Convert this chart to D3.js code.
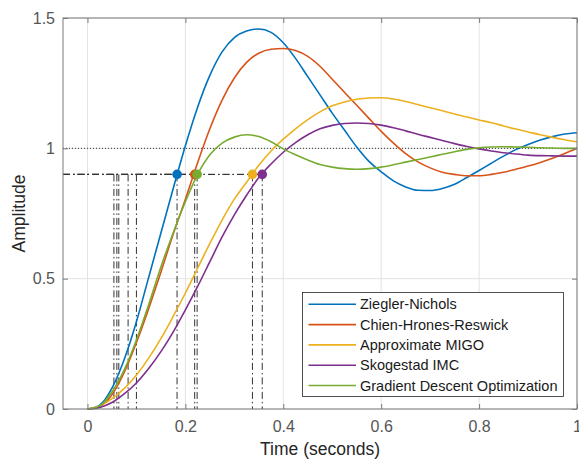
<!DOCTYPE html>
<html>
<head>
<meta charset="utf-8">
<script src="https://cdn.jsdelivr.net/npm/d3@7/dist/d3.min.js"></script>
<style>
  html, body { margin: 0; padding: 0; background: #fff; }
  svg { display: block; font-family: "Liberation Sans", Arial, Helvetica, sans-serif; }
</style>
</head>
<body>
<div id="chart"></div>
<script>
// step response (t in seconds)
const time = [0, 0.025, 0.05, 0.075, 0.1, 0.125, 0.15, 0.175, 0.2, 0.225, 0.25, 0.275, 0.3, 0.325, 0.35, 0.375,
  0.4, 0.425, 0.45, 0.475, 0.5, 0.525, 0.55, 0.575, 0.6, 0.625, 0.65, 0.675, 0.7, 0.725, 0.75, 0.775,
  0.8, 0.825, 0.85, 0.875, 0.9, 0.925, 0.95, 0.975, 1.0];

const zieglerNichols = [0, 0.015, 0.08, 0.19, 0.335, 0.505, 0.675, 0.845, 1.01, 1.158, 1.28, 1.37, 1.425, 1.45, 1.458, 1.445,
  1.405, 1.345, 1.275, 1.205, 1.135, 1.07, 1.005, 0.95, 0.91, 0.875, 0.852, 0.839, 0.838, 0.846, 0.862, 0.888,
  0.915, 0.943, 0.97, 0.995, 1.015, 1.032, 1.045, 1.055, 1.06];
const chienHronesReswick = [0, 0.01, 0.055, 0.14, 0.255, 0.385, 0.525, 0.67, 0.805, 0.945, 1.075, 1.185, 1.27, 1.33, 1.365, 1.38,
  1.383, 1.375, 1.353, 1.315, 1.265, 1.215, 1.165, 1.115, 1.065, 1.02, 0.98, 0.948, 0.925, 0.908, 0.9, 0.895,
  0.895, 0.9, 0.908, 0.92, 0.932, 0.946, 0.962, 0.98, 1.0];
const approxMIGO = [0, 0.012, 0.04, 0.078, 0.13, 0.195, 0.27, 0.355, 0.445, 0.54, 0.635, 0.725, 0.805, 0.87, 0.935, 0.99,
  1.035, 1.075, 1.11, 1.14, 1.163, 1.178, 1.188, 1.193, 1.194, 1.189, 1.18, 1.168, 1.156, 1.144, 1.132, 1.12,
  1.109, 1.098, 1.086, 1.074, 1.063, 1.052, 1.042, 1.033, 1.025];
const skogestadIMC = [0, 0.006, 0.025, 0.058, 0.1, 0.155, 0.22, 0.295, 0.38, 0.47, 0.565, 0.66, 0.745, 0.82, 0.888, 0.94,
  0.985, 1.022, 1.052, 1.075, 1.088, 1.095, 1.097, 1.095, 1.089, 1.079, 1.067, 1.054, 1.042, 1.03, 1.018, 1.007,
  0.998, 0.99, 0.983, 0.978, 0.974, 0.972, 0.971, 0.97, 0.97];
const gradientDescent = [0, 0.012, 0.065, 0.15, 0.265, 0.4, 0.545, 0.675, 0.795, 0.9, 0.975, 1.02, 1.043, 1.052, 1.045, 1.025,
  0.998, 0.975, 0.955, 0.938, 0.928, 0.922, 0.92, 0.922, 0.928, 0.937, 0.947, 0.957, 0.967, 0.977, 0.987, 0.996,
  1.002, 1.005, 1.006, 1.005, 1.004, 1.002, 1.001, 1.0, 1.0];

const names = ["Ziegler-Nichols", "Chien-Hrones-Reswick", "Approximate MIGO", "Skogestad IMC", "Gradient Descent Optimization"];
const colors = ["#0072BD", "#D95319", "#EDB120", "#7E2F8E", "#77AC30"];
const seriesValues = [zieglerNichols, chienHronesReswick, approxMIGO, skogestadIMC, gradientDescent];
// rise time markers: 10% and 90% crossing times
const rise10 = [0.054, 0.064, 0.083, 0.1, 0.06];
const rise90 = [0.183, 0.219, 0.337, 0.357, 0.224];
const riseLevel = 0.9;
const finalValue = 1;

const xTicks = [0, 0.2, 0.4, 0.6, 0.8, 1];
const yTicks = [0, 0.5, 1, 1.5];

const W = 579, H = 459;
const m = { top: 18, right: 2, bottom: 50, left: 63 };
const iw = W - m.left - m.right, ih = H - m.top - m.bottom;

const svg = d3.select("#chart").append("svg").attr("width", W).attr("height", H);
const g = svg.append("g").attr("transform", `translate(${m.left},${m.top})`);

const x = d3.scaleLinear().domain([-0.05, 1]).range([0, iw]);
const y = d3.scaleLinear().domain([0, 1.5]).range([ih, 0]);

// grid
g.append("g").selectAll("line").data(xTicks).join("line")
  .attr("x1", d => x(d)).attr("x2", d => x(d)).attr("y1", 0).attr("y2", ih)
  .attr("stroke", "#e3e3e3").attr("stroke-width", 1);
g.append("g").selectAll("line").data(yTicks).join("line")
  .attr("x1", 0).attr("x2", iw).attr("y1", d => y(d)).attr("y2", d => y(d))
  .attr("stroke", "#e3e3e3").attr("stroke-width", 1);

// steady state + rise time guides
const guides = g.append("g").attr("fill", "none");
guides.append("line")
  .attr("x1", x(-0.05)).attr("x2", x(1)).attr("y1", y(finalValue)).attr("y2", y(finalValue))
  .attr("stroke", "#333").attr("stroke-width", 1).attr("stroke-dasharray", "1 2");
const dashDot = "7 3 1.5 3";
rise90.forEach(t => {
  guides.append("line")
    .attr("x1", x(-0.05)).attr("x2", x(t)).attr("y1", y(riseLevel)).attr("y2", y(riseLevel))
    .attr("stroke", "#333").attr("stroke-width", 1).attr("stroke-dasharray", dashDot);
});
rise10.concat(rise90).forEach(t => {
  guides.append("line")
    .attr("x1", x(t)).attr("x2", x(t)).attr("y1", y(riseLevel)).attr("y2", y(0))
    .attr("stroke", "#333").attr("stroke-width", 1).attr("stroke-dasharray", dashDot);
});

// curves
const line = d3.line().x((d, i) => x(time[i])).y(d => y(d)).curve(d3.curveMonotoneX);
g.append("g").selectAll("path").data(seriesValues).join("path")
  .attr("d", d => line(d))
  .attr("fill", "none")
  .attr("stroke", (d, i) => colors[i])
  .attr("stroke-width", 1.6);

// rise markers
g.append("g").selectAll("circle").data(rise90).join("circle")
  .attr("cx", d => x(d)).attr("cy", y(riseLevel)).attr("r", 4.8)
  .attr("fill", (d, i) => colors[i]);

// axes: ticks inside, box all round
const axisCol = "#7a7a7a", labCol = "#555";
const styleAxis = sel => {
  sel.select(".domain").remove();
  sel.selectAll(".tick line").attr("stroke", axisCol);
  sel.selectAll("text").attr("fill", labCol).style("font-size", "16px");
};
g.append("g").attr("transform", `translate(0,${ih})`)
  .call(d3.axisBottom(x).tickValues(xTicks).tickFormat(d3.format("")).tickSizeInner(-5).tickSizeOuter(0).tickPadding(12))
  .call(styleAxis);
g.append("g")
  .call(d3.axisTop(x).tickValues(xTicks).tickFormat("").tickSizeInner(-5).tickSizeOuter(0))
  .call(styleAxis);
g.append("g")
  .call(d3.axisLeft(y).tickValues(yTicks).tickFormat(d3.format("")).tickSizeInner(-5).tickSizeOuter(0).tickPadding(8))
  .call(styleAxis);
g.append("g").attr("transform", `translate(${iw},0)`)
  .call(d3.axisRight(y).tickValues(yTicks).tickFormat("").tickSizeInner(-5).tickSizeOuter(0))
  .call(styleAxis);
g.append("rect").attr("width", iw).attr("height", ih)
  .attr("fill", "none").attr("stroke", axisCol).attr("stroke-width", 1);

// axis labels
svg.append("text").attr("x", m.left + iw / 2).attr("y", 455)
  .attr("text-anchor", "middle").attr("fill", "#262626").style("font-size", "17.5px")
  .text("Time (seconds)");
svg.append("text").attr("transform", `translate(25,${m.top + ih / 2}) rotate(-90)`)
  .attr("text-anchor", "middle").attr("fill", "#262626").style("font-size", "17.5px")
  .text("Amplitude");

// legend
const lg = svg.append("g").attr("transform", "translate(302.5,292.5)");
lg.append("rect").attr("width", 261).attr("height", 104)
  .attr("fill", "#fff").attr("stroke", "#262626").attr("stroke-width", 0.8);
const rows = lg.selectAll("g.row").data(names).join("g").attr("class", "row")
  .attr("transform", (d, i) => `translate(0,${11.8 + i * 20.3})`);
rows.append("line").attr("x1", 6).attr("x2", 53.5)
  .attr("stroke", (d, i) => colors[i]).attr("stroke-width", 1.6);
rows.append("text").attr("x", 57.5).attr("dy", "0.35em")
  .attr("fill", "#1a1a1a").style("font-size", "14.5px").text(d => d);
</script>
</body>
</html>
